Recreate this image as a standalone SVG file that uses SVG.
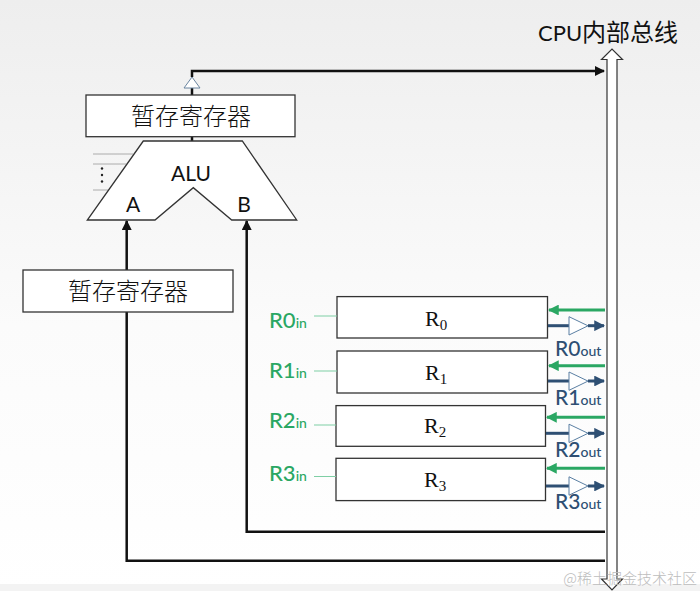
<svg xmlns="http://www.w3.org/2000/svg" width="700" height="591" viewBox="0 0 700 591">
<defs>
<linearGradient id="bg" x1="0" y1="0" x2="0" y2="1">
<stop offset="0" stop-color="#eeeeee"/>
<stop offset="0.55" stop-color="#fbfbfb"/>
<stop offset="1" stop-color="#ffffff"/>
</linearGradient>
<marker id="ab" viewBox="0 0 10 10" refX="9" refY="5" markerWidth="4" markerHeight="4" orient="auto" markerUnits="strokeWidth">
<path d="M0,0 L10,5 L0,10 z" fill="#111"/>
</marker>
<marker id="ag" viewBox="0 0 10 10" refX="9" refY="5" markerWidth="3.6" markerHeight="3.6" orient="auto" markerUnits="strokeWidth">
<path d="M0,0 L10,5 L0,10 z" fill="#2aa763"/>
</marker>
<marker id="an" viewBox="0 0 10 10" refX="9" refY="5" markerWidth="3.6" markerHeight="3.6" orient="auto" markerUnits="strokeWidth">
<path d="M0,0 L10,5 L0,10 z" fill="#2e4f73"/>
</marker>
<style>
.box{fill:#fff;stroke:#333;stroke-width:1.3}
.cjk{font-family:"Noto Sans CJK SC","Noto Sans",sans-serif;font-weight:300;fill:#111}
.lat{font-family:Lato,"Liberation Sans",sans-serif;fill:#111}
.reg{font-family:"Liberation Serif",serif;fill:#111}
.wire{fill:none;stroke:#111;stroke-width:2.5}
.gin{fill:none;stroke:#2aa763;stroke-width:3}
.bout{fill:none;stroke:#2e4f73;stroke-width:3}
.buf{fill:#fff;stroke:#5a7fa3;stroke-width:1}
.gl{stroke:#7fcfa5;stroke-width:1}
.gt{font-family:Lato,"Liberation Sans",sans-serif;fill:#2aa763}
.bt{font-family:Lato,"Liberation Sans",sans-serif;fill:#2e4f73}
.thin{stroke:#999;stroke-width:0.8}
</style>
</defs>
<rect x="0" y="0" width="700" height="591" fill="url(#bg)"/>
<rect x="0" y="584" width="700" height="7" fill="#f3f3f3"/>

<g id="bus">
<polygon points="607,59.5 601.5,59.5 612,49 622.5,59.5 617,59.5 617,579 622.5,579 612,590 601.5,579 607,579" fill="#fff" stroke="#333" stroke-width="1.2"/>
<text class="lat" x="538" y="41" font-size="22">CPU<tspan class="cjk" font-size="24" style="font-weight:400">内部总线</tspan></text>
</g>

<g id="connectors">
<path class="wire" d="M192,95 L192,88"/>
<path class="wire" d="M192,77 L192,71 L604,71" marker-end="url(#ab)"/>
<polygon points="184,88 200,88 192,77" fill="#fff" stroke="#6a85a0" stroke-width="1"/>
<path class="wire" d="M192,136.7 L192,141"/>
<path class="wire" d="M605,560.7 L126.7,560.7 L126.7,221" marker-end="url(#ab)"/>
<path class="wire" d="M605,531.7 L246.7,531.7 L246.7,221" marker-end="url(#ab)"/>
</g>

<g id="tmp-top">
<rect class="box" x="86" y="95" width="209" height="41.7"/>
<text class="cjk" x="191" y="125" font-size="24" text-anchor="middle">暂存寄存器</text>
</g>

<g id="alu">
<line class="thin" x1="93" y1="154" x2="133" y2="154"/>
<line class="thin" x1="93" y1="164" x2="126.3" y2="164"/>
<line class="thin" x1="93" y1="190" x2="108" y2="190"/>
<circle cx="102" cy="168.5" r="1.2" fill="#222"/>
<circle cx="102" cy="175" r="1.2" fill="#222"/>
<circle cx="102" cy="181.5" r="1.2" fill="#222"/>
<polygon points="143.3,141 242.3,141 296.7,220 231.7,220 193.3,187.7 155,220 87.3,220" fill="#fff" stroke="#333" stroke-width="1.3"/>
<text class="lat" x="191" y="181" font-size="21" text-anchor="middle">ALU</text>
<text class="lat" x="133" y="211.5" font-size="21" text-anchor="middle">A</text>
<text class="lat" x="244" y="211.5" font-size="21" text-anchor="middle">B</text>
</g>

<g id="tmp-low">
<rect class="box" x="23" y="270" width="210" height="42"/>
<text class="cjk" x="128" y="300" font-size="24" text-anchor="middle">暂存寄存器</text>
</g>

<g id="r0">
<rect class="box" x="337" y="296.6" width="210.5" height="41.4"/>
<text class="reg" x="425" y="326" font-size="22">R<tspan font-size="15" dy="4">0</tspan></text>
<text class="gt" x="269" y="328" font-size="22" font-weight="500">R0<tspan font-size="14">in</tspan></text>
<line class="gl" x1="314" y1="316" x2="337" y2="316"/>
<path class="gin" d="M605,310 L549,310" marker-end="url(#ag)"/>
<path class="bout" d="M548,325.7 L569,325.7"/>
<path class="bout" d="M588,325.7 L604,325.7" stroke-width="2.5" marker-end="url(#an)"/>
<polygon class="buf" points="569,316.7 569,335 588,325.8"/>
<text class="bt" x="555" y="355.7" font-size="21" font-weight="500">R0<tspan font-size="14">out</tspan></text>
</g>

<g id="r1">
<rect class="box" x="337" y="351" width="210.5" height="42"/>
<text class="reg" x="425" y="380" font-size="22">R<tspan font-size="15" dy="4">1</tspan></text>
<text class="gt" x="269" y="378.3" font-size="22" font-weight="500">R1<tspan font-size="14">in</tspan></text>
<line class="gl" x1="314" y1="371" x2="337" y2="371"/>
<path class="gin" d="M605,365.7 L549,365.7" marker-end="url(#ag)"/>
<path class="bout" d="M548,381 L569,381"/>
<path class="bout" d="M588,381 L604,381" stroke-width="2.5" marker-end="url(#an)"/>
<polygon class="buf" points="569,372 569,390.3 588,381.1"/>
<text class="bt" x="555" y="405" font-size="21" font-weight="500">R1<tspan font-size="14">out</tspan></text>
</g>

<g id="r2">
<rect class="box" x="336" y="405.6" width="209.5" height="40.7"/>
<text class="reg" x="424" y="433.3" font-size="22">R<tspan font-size="15" dy="4">2</tspan></text>
<text class="gt" x="269" y="428.3" font-size="22" font-weight="500">R2<tspan font-size="14">in</tspan></text>
<line class="gl" x1="314" y1="425" x2="336" y2="425"/>
<path class="gin" d="M605,417.3 L547,417.3" marker-end="url(#ag)"/>
<path class="bout" d="M546,433.3 L569,433.3"/>
<path class="bout" d="M588,433.3 L604,433.3" stroke-width="2.5" marker-end="url(#an)"/>
<polygon class="buf" points="569,424.2 569,442.5 588,433.3"/>
<text class="bt" x="555" y="457.3" font-size="21" font-weight="500">R2<tspan font-size="14">out</tspan></text>
</g>

<g id="r3">
<rect class="box" x="336" y="458.3" width="209.5" height="42.3"/>
<text class="reg" x="424" y="486.7" font-size="22">R<tspan font-size="15" dy="4">3</tspan></text>
<text class="gt" x="269" y="480.7" font-size="22" font-weight="500">R3<tspan font-size="14">in</tspan></text>
<line class="gl" x1="314" y1="476.5" x2="336" y2="476.5"/>
<path class="gin" d="M605,468.3 L547,468.3" marker-end="url(#ag)"/>
<path class="bout" d="M546,486 L569,486"/>
<path class="bout" d="M588,486 L604,486" stroke-width="2.5" marker-end="url(#an)"/>
<polygon class="buf" points="569,476.8 569,495.2 588,486"/>
<text class="bt" x="555" y="509" font-size="21" font-weight="500">R3<tspan font-size="14">out</tspan></text>
</g>

<text class="cjk" x="697" y="584" font-size="15" text-anchor="end" style="fill:#bdbdbd">@稀土掘金技术社区</text>
</svg>
